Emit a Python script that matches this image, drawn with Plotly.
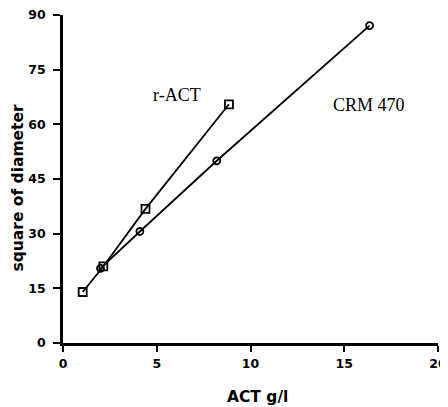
import plotly.graph_objects as go

ract_x = [1.05, 2.15, 4.4, 8.85]
ract_y = [14.0, 21.0, 36.8, 65.5]
crm_x = [2.0, 4.1, 8.2, 16.35]
crm_y = [20.5, 30.6, 50.0, 87.1]
x_ticks = [0, 5, 10, 15, 20]
y_ticks = [0, 15, 30, 45, 60, 75, 90]

fig = go.Figure()
fig.add_trace(go.Scatter(
    x=crm_x, y=crm_y, mode="lines+markers", name="CRM 470",
    line=dict(color="black", width=1.8),
    marker=dict(symbol="circle-open", size=7, color="black", line=dict(width=1.8)),
    showlegend=False, cliponaxis=False))
fig.add_trace(go.Scatter(
    x=ract_x, y=ract_y, mode="lines+markers", name="r-ACT",
    line=dict(color="black", width=1.8),
    marker=dict(symbol="square-open", size=8, color="black", line=dict(width=1.8)),
    showlegend=False, cliponaxis=False))

fig.add_annotation(x=6.1, y=68, text="r-ACT", showarrow=False,
                   font=dict(family="Liberation Serif", size=18, color="black"))
fig.add_annotation(x=16.3, y=65.4, text="CRM 470", showarrow=False,
                   font=dict(family="Liberation Serif", size=18, color="black"))

tickfont = dict(family="DejaVu Sans", size=12.5, color="black")
titlefont = dict(family="DejaVu Sans", size=15.5, color="black")

# axis titles as annotations for precise placement
fig.add_annotation(xref="paper", yref="paper", x=0.518, y=-0.165,
                   xanchor="center", yanchor="middle", showarrow=False,
                   text="<b>ACT g/l</b>", font=titlefont)
fig.add_annotation(xref="paper", yref="paper", x=-0.119, y=0.475,
                   xanchor="center", yanchor="middle", showarrow=False, textangle=-90,
                   text="<b>square of diameter</b>", font=titlefont)

# The page body has an 8px margin, so the figure is sized/offset accordingly.
fig.update_layout(
    width=440, height=399,
    margin=dict(l=55, r=10, t=7, b=64, autoexpand=False),
    paper_bgcolor="white", plot_bgcolor="white",
    xaxis=dict(range=[0, 20], tickvals=x_ticks, ticktext=[f"<b>{v}</b>" for v in x_ticks],
               ticks="outside", ticklen=6, tickwidth=1.5, ticklabeloverflow="allow",
               tickcolor="black", showline=True, linecolor="black", linewidth=2.5,
               showgrid=False, zeroline=False, tickfont=tickfont, ticklabelstandoff=1),
    yaxis=dict(range=[0, 90], tickvals=y_ticks, ticktext=[f"<b>{v}</b>" for v in y_ticks],
               ticks="outside", ticklen=7, tickwidth=1.5, ticklabeloverflow="allow",
               tickcolor="black", showline=True, linecolor="black", linewidth=2.5,
               showgrid=False, zeroline=False, tickfont=tickfont, ticklabelstandoff=5),
)

fig.write_html("out.html")
